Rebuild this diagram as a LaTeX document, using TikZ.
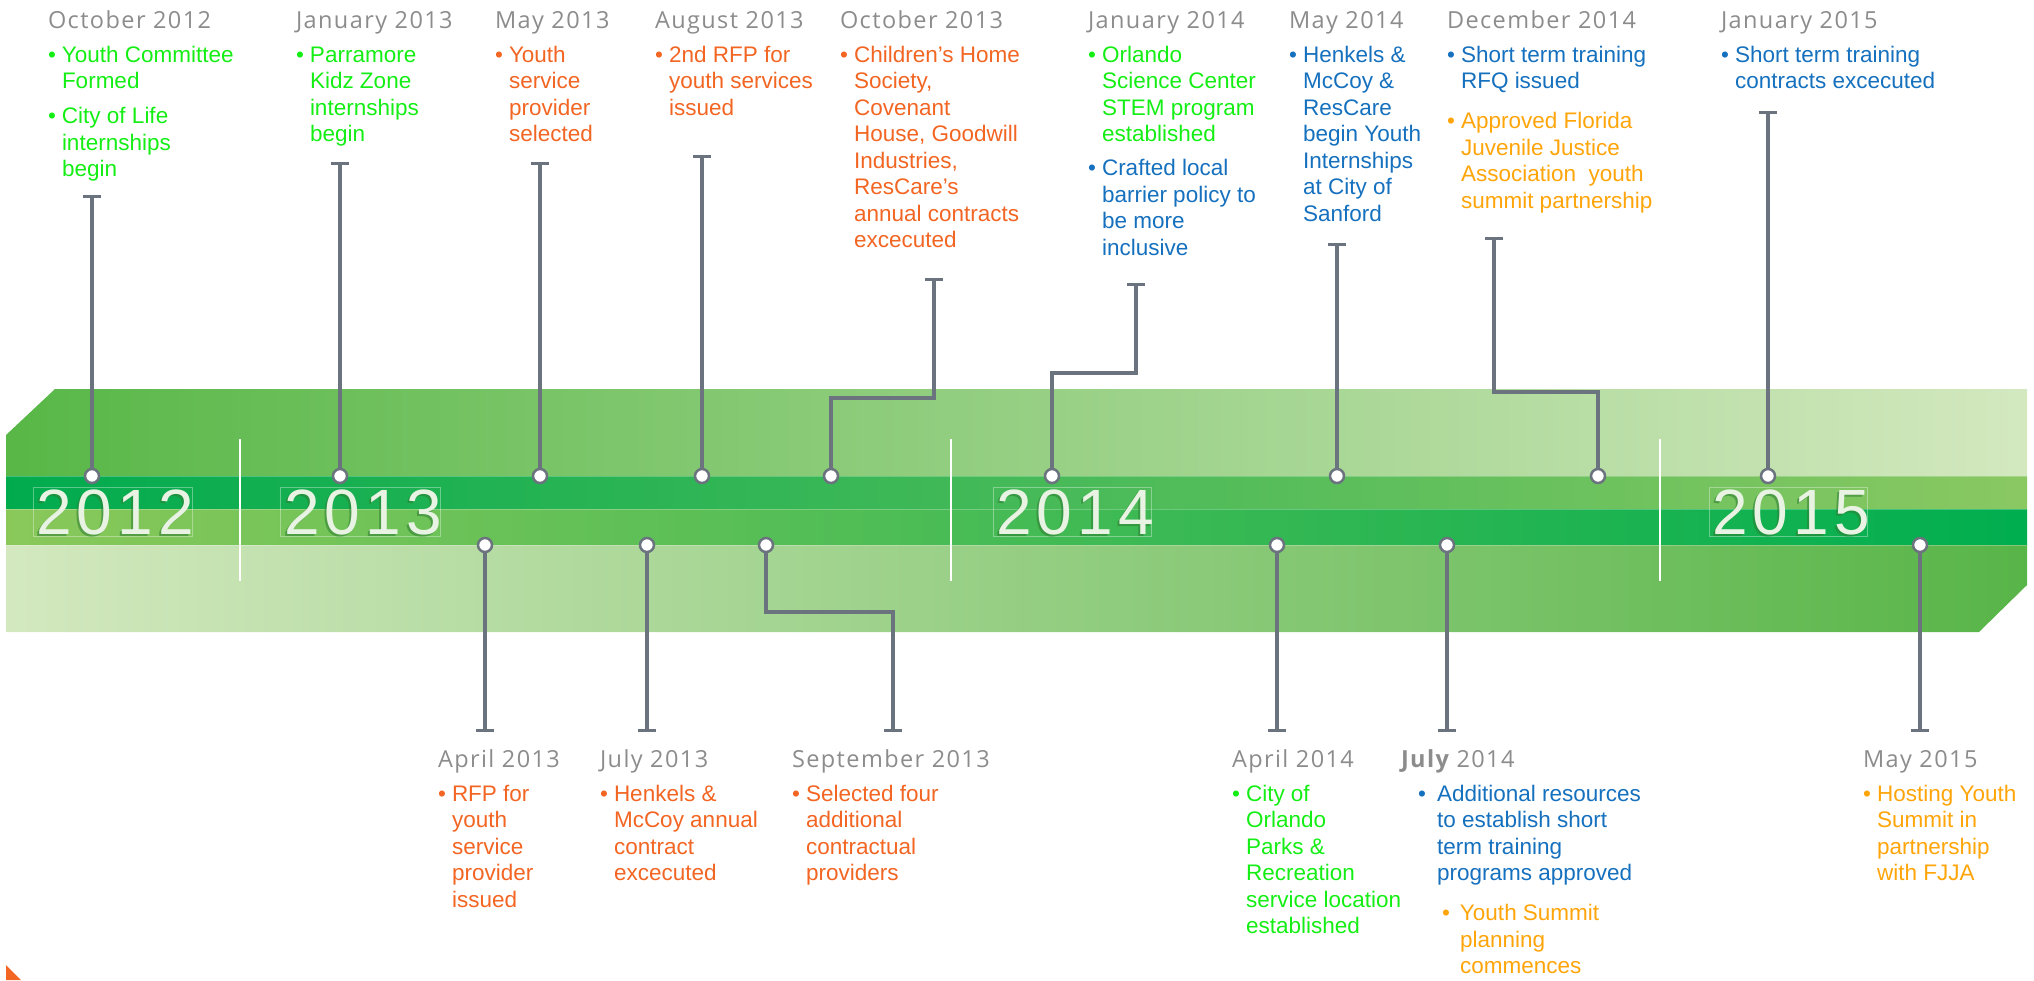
\documentclass[tikz,border=0pt]{standalone}
\usepackage{fontspec}
\setmainfont{Liberation Sans}
\newfontfamily\hdfam{Open Sans}[LetterSpace=6]
\newfontfamily\yrfam{Liberation Sans}[LetterSpace=8]
\definecolor{hdgray}{HTML}{8C8C8C}
\definecolor{cgreen}{HTML}{14EE14}
\definecolor{corange}{HTML}{F26522}
\definecolor{cblue}{HTML}{1570BE}
\definecolor{camber}{HTML}{FFA50A}
\definecolor{conncol}{HTML}{6B737E}
\definecolor{yrtext}{HTML}{E8F3E4}
\definecolor{yrshadow}{HTML}{2E7D32}
\newcommand{\hdr}[1]{{\hdfam\fontsize{23.5}{26.5}\selectfont\leavevmode\color{hdgray}#1\par}}
\newcommand{\itmx}[4]{{\hangindent=\dimexpr#2+#3\relax\hangafter=1\noindent\color{#1}\hspace*{#2}\makebox[#3][l]{\textbullet}#4\par}}
\newcommand{\itm}[2]{\itmx{#1}{0pt}{14pt}{#2}}
\newcommand{\blk}[2]{\parbox[t]{#1}{\fontsize{22.5}{26.5}\selectfont #2}}
\begin{document}
\begin{tikzpicture}[x=1pt,y=-1pt,
  txt/.style={anchor=base west, inner sep=0pt, outer sep=0pt},
  conn/.style={draw=conncol, line width=3.5pt},
  tbar/.style={draw=conncol, line width=3pt},
  dotm/.style={circle, draw=conncol, fill=white, line width=2.5pt, minimum size=14pt, inner sep=0pt},
  yr/.style={anchor=base, inner sep=0pt, font=\yrfam\fontsize{64}{64}\selectfont, text=yrtext},
  yrs/.style={anchor=base, inner sep=0pt, font=\yrfam\fontsize{64}{64}\selectfont, text=yrshadow, opacity=0.55},
  yrbox/.style={draw=white, draw opacity=0.35, line width=0.8pt},
  divider/.style={draw=white, line width=2.5pt}]
\useasboundingbox (0,0) rectangle (2034,980);
% ribbon
\shade[left color={rgb,255:red,88;green,183;blue,71}, right color={rgb,255:red,211;green,232;blue,191}]
  (6,435) -- (55,389) -- (2027,389) -- (2027,476) -- (6,476) -- cycle;
\shade[left color={rgb,255:red,0;green,171;blue,78}, right color={rgb,255:red,138;green,200;blue,98}]
  (6,476) rectangle (2027,509);
\shade[left color={rgb,255:red,138;green,200;blue,90}, right color={rgb,255:red,0;green,174;blue,79}]
  (6,509) rectangle (2027,545);
\shade[left color={rgb,255:red,211;green,232;blue,191}, right color={rgb,255:red,88;green,181;blue,72}]
  (6,545) -- (2027,545) -- (2027,585) -- (1979,632) -- (6,632) -- cycle;
\draw[white, opacity=0.25, line width=1pt] (6,476) -- (2027,476) (6,509) -- (2027,509) (6,545) -- (2027,545);
% dividers
\draw[divider] (240,439) -- (240,581);
\draw[divider] (951,439) -- (951,581);
\draw[divider] (1660,439) -- (1660,581);
% year labels
\draw[yrbox] (33,487) rectangle (192,536);
\draw[yrbox] (280,487) rectangle (440,536);
\draw[yrbox] (993,487) rectangle (1151,536);
\draw[yrbox] (1709,487) rectangle (1867,536);
\node[yrs] (y12s) at (113,536) {2012};
\node[yr] (y12) at (115,534) {2012};
\node[yrs] (y13s) at (361,536) {2013};
\node[yr] (y13) at (363,534) {2013};
\node[yrs] (y14s) at (1073,536) {2014};
\node[yr] (y14) at (1075,534) {2014};
\node[yrs] (y15s) at (1789,536) {2015};
\node[yr] (y15) at (1791,534) {2015};
% markers
\node[dotm] (m1) at (92,476) {};
\node[dotm] (m2) at (340,476) {};
\node[dotm] (m3) at (540,476) {};
\node[dotm] (m4) at (702,476) {};
\node[dotm] (m5) at (831,476) {};
\node[dotm] (m6) at (1052,476) {};
\node[dotm] (m7) at (1337,476) {};
\node[dotm] (m8) at (1598,476) {};
\node[dotm] (m9) at (1768,476) {};
\node[dotm] (n1) at (485,545) {};
\node[dotm] (n2) at (647,545) {};
\node[dotm] (n3) at (766,545) {};
\node[dotm] (n4) at (1277,545) {};
\node[dotm] (n5) at (1447,545) {};
\node[dotm] (n6) at (1920,545) {};
% connector ends
\coordinate (c1) at (92,196);
\coordinate (c2) at (340,163);
\coordinate (c3) at (540,163);
\coordinate (c4) at (702,156);
\coordinate (k5) at (934,398);
\coordinate (c5) at (934,279);
\coordinate (k6) at (1136,373);
\coordinate (c6) at (1136,284);
\coordinate (c7) at (1337,244);
\coordinate (k8) at (1494,392);
\coordinate (c8) at (1494,238);
\coordinate (c9) at (1768,112);
\coordinate (d1) at (485,730);
\coordinate (d2) at (647,730);
\coordinate (k3) at (893,612);
\coordinate (d3) at (893,730);
\coordinate (d4) at (1277,730);
\coordinate (d5) at (1447,730);
\coordinate (d6) at (1920,730);
% connectors
\draw[conn] (m1) -- (c1);
\draw[conn] (m2) -- (c2);
\draw[conn] (m3) -- (c3);
\draw[conn] (m4) -- (c4);
\draw[conn] (m5) |- (k5) -- (c5);
\draw[conn] (m6) |- (k6) -- (c6);
\draw[conn] (m7) -- (c7);
\draw[conn] (m8) |- (k8) -- (c8);
\draw[conn] (m9) -- (c9);
\draw[conn] (n1) -- (d1);
\draw[conn] (n2) -- (d2);
\draw[conn] (n3) |- (k3) -- (d3);
\draw[conn] (n4) -- (d4);
\draw[conn] (n5) -- (d5);
\draw[conn] (n6) -- (d6);
\foreach \c in {c1,c2,c3,c4,c5,c6,c7,c8,c9,d1,d2,d3,d4,d5,d6}
  \draw[tbar] ([xshift=-9pt]\c) -- ([xshift=9pt]\c);
% top texts
\node[txt] (t1) at (48,28) {\blk{240pt}{\hdr{October 2012}\vspace{7.5pt}%
  \itm{cgreen}{Youth Committee\newline Formed}\vspace{8.5pt}%
  \itm{cgreen}{City of Life\newline internships\newline begin}}};
\node[txt] (t2) at (296,28) {\blk{200pt}{\hdr{January 2013}\vspace{7.5pt}%
  \itm{cgreen}{Parramore\newline Kidz Zone\newline internships\newline begin}}};
\node[txt] (t3) at (495,28) {\blk{160pt}{\hdr{May 2013}\vspace{7.5pt}%
  \itm{corange}{Youth\newline service\newline provider\newline selected}}};
\node[txt] (t4) at (655,28) {\blk{180pt}{\hdr{August 2013}\vspace{7.5pt}%
  \itm{corange}{2nd RFP for\newline youth services\newline issued}}};
\node[txt] (t5) at (840,28) {\blk{240pt}{\hdr{October 2013}\vspace{7.5pt}%
  \itm{corange}{Children's Home\newline Society,\newline Covenant\newline House, Goodwill\newline Industries,\newline ResCare's\newline annual contracts\newline excecuted}}};
\node[txt] (t6) at (1088,28) {\blk{200pt}{\hdr{January 2014}\vspace{7.5pt}%
  \itm{cgreen}{Orlando\newline Science Center\newline STEM program\newline established}\vspace{7.5pt}%
  \itm{cblue}{Crafted local\newline barrier policy to\newline be more\newline inclusive}}};
\node[txt] (t7) at (1289,28) {\blk{160pt}{\hdr{May 2014}\vspace{7.5pt}%
  \itm{cblue}{Henkels \&\newline McCoy \&\newline ResCare\newline begin Youth\newline Internships\newline at City of\newline Sanford}}};
\node[txt] (t8) at (1447,28) {\blk{260pt}{\hdr{December 2014}\vspace{7.5pt}%
  \itm{cblue}{Short term training\newline RFQ issued}\vspace{13.5pt}%
  \itm{camber}{Approved Florida\newline Juvenile Justice\newline Association\ \ youth\newline summit partnership}}};
\node[txt] (t9) at (1721,28) {\blk{300pt}{\hdr{January 2015}\vspace{7.5pt}%
  \itm{cblue}{Short term training\newline contracts excecuted}}};
% bottom texts
\node[txt] (b1) at (438,767) {\blk{160pt}{\hdr{April 2013}\vspace{7.5pt}%
  \itm{corange}{RFP for\newline youth\newline service\newline provider\newline issued}}};
\node[txt] (b2) at (600,767) {\blk{190pt}{\hdr{July 2013}\vspace{7.5pt}%
  \itm{corange}{Henkels \&\newline McCoy annual\newline contract\newline excecuted}}};
\node[txt] (b3) at (792,767) {\blk{240pt}{\hdr{September 2013}\vspace{7.5pt}%
  \itm{corange}{Selected four\newline additional\newline contractual\newline providers}}};
\node[txt] (b4) at (1232,767) {\blk{190pt}{\hdr{April 2014}\vspace{7.5pt}%
  \itm{cgreen}{City of\newline Orlando\newline Parks \&\newline Recreation\newline service location\newline established}}};
\node[txt] (b5) at (1401,767) {\blk{280pt}{\hdr{{\bfseries July} 2014}\vspace{7.5pt}%
  \itmx{cblue}{17pt}{19pt}{Additional resources\newline to establish short\newline term training\newline programs approved}\vspace{13.5pt}%
  \itmx{camber}{41pt}{18pt}{Youth Summit\newline planning\newline commences}}};
\node[txt] (b6) at (1863,767) {\blk{170pt}{\hdr{May 2015}\vspace{7.5pt}%
  \itm{camber}{Hosting Youth\newline Summit in\newline partnership\newline with FJJA}}};
% corner mark
\fill[corange] (6,965) -- (6,980) -- (21,980) -- cycle;
\end{tikzpicture}
\end{document}
